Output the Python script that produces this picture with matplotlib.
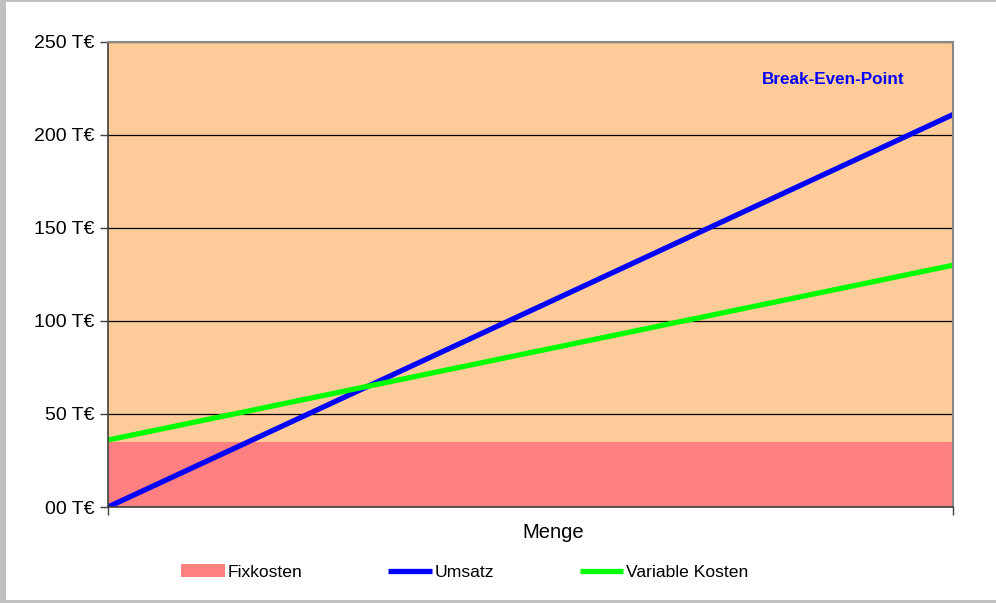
import matplotlib.pyplot as plt
from matplotlib.patches import Rectangle

plt.rcParams['font.family'] = ['Liberation Sans', 'DejaVu Sans']

# Menge (x) an den Enden der Achse
menge = [0, 10000]

# Werte in T€
fixkosten = [35, 35]
umsatz = [0, 211]
variable_kosten = [36, 130]

y_ticks = [0, 50, 100, 150, 200, 250]
y_labels = [f"{v:02d} T€" for v in y_ticks]

fig = plt.figure(figsize=(9.96, 6.03), dpi=100)

# grauer Rahmen um das Diagramm
fig.patches.append(Rectangle((0, 0), 1, 1, transform=fig.transFigure,
                             facecolor='#C0C0C0', edgecolor='none', zorder=-10))
fig.patches.append(Rectangle((6 / 996, 3 / 603), 1, 1 - 5 / 603, transform=fig.transFigure,
                             facecolor='white', edgecolor='none', zorder=-9))

ax = fig.add_axes([108 / 996, 96 / 603, 845 / 996, 465 / 603])
ax.set_facecolor('#FFCC99')

ax.fill_between(menge, 0, fixkosten, color='#FF8080', linewidth=0, label='Fixkosten', zorder=1)
ax.set_yticks(y_ticks)
ax.set_yticklabels(y_labels, fontsize=14)
ax.yaxis.grid(True, color='black', linewidth=0.9, zorder=1.5)
ax.set_axisbelow(False)
ax.plot(menge, umsatz, color='#0000FF', linewidth=3.8, label='Umsatz', solid_capstyle='butt', zorder=3)
ax.plot(menge, variable_kosten, color='#00FF00', linewidth=3.8, label='Variable Kosten',
        solid_capstyle='butt', zorder=3)

ax.set_xlim(menge[0], menge[-1])
ax.set_ylim(0, 250)
ax.set_xticks(menge)
ax.set_xticklabels(['', ''])
ax.tick_params(axis='both', direction='out', length=6, width=1, color='#404040')
ax.tick_params(axis='y', pad=4)

for s in ['left', 'bottom']:
    ax.spines[s].set_color('#404040')
    ax.spines[s].set_linewidth(1.2)
for s in ['top', 'right']:
    ax.spines[s].set_color('#888888')
    ax.spines[s].set_linewidth(1.5)
for s in ax.spines.values():
    s.set_zorder(4)

ax.text(0.858, 230, 'Break-Even-Point', transform=ax.get_yaxis_transform(),
        color='#0000FF', fontsize=12.3, fontweight='bold', ha='center', va='center')

fig.text(553 / 996, 1 - 532 / 603, 'Menge', fontsize=14.5, ha='center', va='center')

fig.legend(loc='center left', bbox_to_anchor=(181 / 996, 1 - 572 / 603), ncol=3,
           frameon=False, fontsize=12.6, handlelength=2.5, handleheight=0.72,
           handletextpad=0.15, columnspacing=4.9, borderpad=0, borderaxespad=0)

fig.savefig('out.png', dpi=100)
